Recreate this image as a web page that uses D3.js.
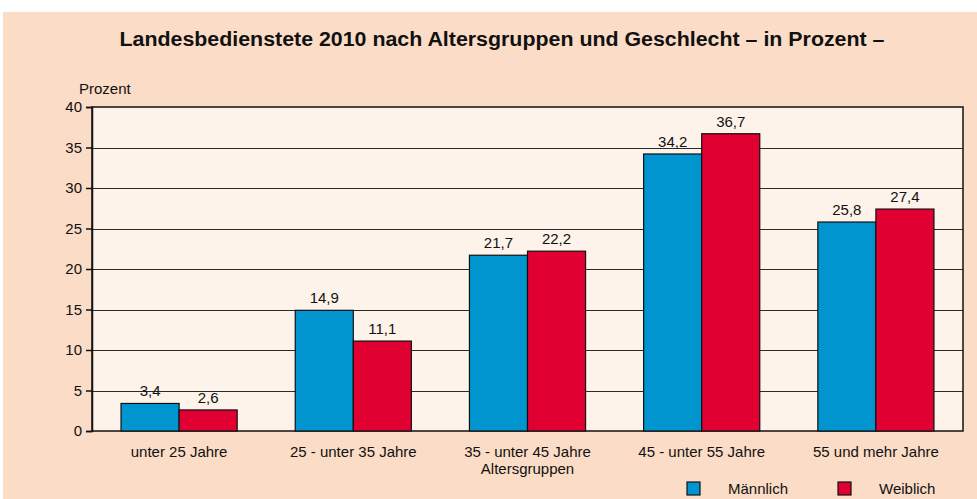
<!DOCTYPE html>
<html>
<head>
<meta charset="utf-8">
<script src="https://cdn.jsdelivr.net/npm/d3@7"></script>
<style>
  body { margin: 0; background: #fff; }
  svg { display: block; font-family: "Liberation Sans", Arial, sans-serif; }
</style>
</head>
<body>
<svg width="977" height="499"></svg>
<script>
const groups = ["unter 25 Jahre", "25 - unter 35 Jahre", "35 - unter 45 Jahre", "45 - unter 55 Jahre", "55 und mehr Jahre"];
const seriesNames = ["Männlich", "Weiblich"];
const maennlich = [3.4, 14.9, 21.7, 34.2, 25.8];
const weiblich = [2.6, 11.1, 22.2, 36.7, 27.4];
const yTicks = [0, 5, 10, 15, 20, 25, 30, 35, 40];
const colors = ["#0095cf", "#e10032"];

const svg = d3.select("svg");
const W = 977, H = 499;

// hintergrund
svg.append("rect").attr("x", 3).attr("y", 12).attr("width", W - 3).attr("height", H - 12)
    .style("fill", "#fbdcc6");

svg.append("text")
    .attr("x", 502).attr("y", 46)
    .attr("text-anchor", "middle")
    .attr("textLength", 765).attr("lengthAdjust", "spacingAndGlyphs")
    .style("font-size", "20px").style("font-weight", "bold").style("fill", "#111")
    .text("Landesbedienstete 2010 nach Altersgruppen und Geschlecht – in Prozent –");

const area = { left: 92, right: 963, top: 107, bottom: 431 };

const scX = d3.scaleBand().domain(groups).range([area.left, area.right]).paddingInner(0).paddingOuter(0);
const scS = d3.scaleBand().domain(seriesNames).range([0, scX.bandwidth()]).paddingInner(0).paddingOuter(0.5);
const scY = d3.scaleLinear().domain([0, 40]).range([area.bottom, area.top]);

svg.append("rect")
    .attr("x", area.left).attr("y", area.top)
    .attr("width", area.right - area.left).attr("height", area.bottom - area.top)
    .style("fill", "#fef3ea");

// gitterlinien
svg.append("g").selectAll("line")
    .data(yTicks.filter(t => t > 0 && t < 40))
    .enter().append("line")
    .attr("x1", area.left).attr("x2", area.right)
    .attr("y1", d => Math.round(scY(d)) + 0.5).attr("y2", d => Math.round(scY(d)) + 0.5)
    .style("stroke", "#2a2a2a").style("stroke-width", 1);

svg.append("rect")
    .attr("x", area.left).attr("y", area.top)
    .attr("width", area.right - area.left).attr("height", area.bottom - area.top)
    .style("fill", "none").style("stroke", "#111").style("stroke-width", 1.5);

const axisY = d3.axisLeft(scY).tickValues(yTicks).tickSize(6).tickPadding(4);
const gy = svg.append("g").attr("transform", `translate(${area.left},0)`).call(axisY);
gy.select(".domain").style("stroke", "#111").style("stroke-width", 1.5);
gy.selectAll(".tick line").style("stroke", "#111").style("stroke-width", 1.5);
gy.selectAll("text").style("font-size", "15px").style("fill", "#111")
    .style("font-family", "'Liberation Sans', Arial, sans-serif");

svg.append("text").attr("x", 79).attr("y", 94)
    .style("font-size", "15px").style("fill", "#111").text("Prozent");

// balken
const data = [];
groups.forEach((g, i) => {
    data.push({ group: g, series: seriesNames[0], value: maennlich[i], color: colors[0] });
    data.push({ group: g, series: seriesNames[1], value: weiblich[i], color: colors[1] });
});

svg.selectAll(".bar")
    .data(data)
    .enter().append("rect")
    .attr("class", "bar")
    .attr("x", d => scX(d.group) + scS(d.series))
    .attr("y", d => scY(d.value))
    .attr("width", scS.bandwidth())
    .attr("height", d => scY(0) - scY(d.value))
    .style("fill", d => d.color)
    .style("stroke", "#111").style("stroke-width", 1.2);

svg.selectAll(".val")
    .data(data)
    .enter().append("text")
    .attr("x", d => scX(d.group) + scS(d.series) + scS.bandwidth() / 2)
    .attr("y", d => scY(d.value) - 7)
    .attr("text-anchor", "middle")
    .style("font-size", "15px").style("fill", "#111")
    .text(d => d.value.toFixed(1).replace(".", ","));

// x-beschriftung
svg.selectAll(".cat")
    .data(groups)
    .enter().append("text")
    .attr("x", d => scX(d) + scX.bandwidth() / 2)
    .attr("y", 457)
    .attr("text-anchor", "middle")
    .style("font-size", "15px").style("fill", "#111")
    .text(d => d);

svg.append("text").attr("x", (area.left + area.right) / 2).attr("y", 474)
    .attr("text-anchor", "middle")
    .style("font-size", "15px").style("fill", "#111").text("Altersgruppen");

// legende
const legX = [687, 838];
const leg = svg.selectAll(".leg")
    .data(seriesNames)
    .enter().append("g")
    .attr("transform", (d, i) => `translate(${legX[i]},482)`);
leg.append("rect").attr("width", 13).attr("height", 13)
    .style("fill", (d, i) => colors[i]).style("stroke", "#111").style("stroke-width", 1.2);
leg.append("text").attr("x", 41).attr("y", 12)
    .style("font-size", "15px").style("fill", "#111").text(d => d);
</script>
</body>
</html>
